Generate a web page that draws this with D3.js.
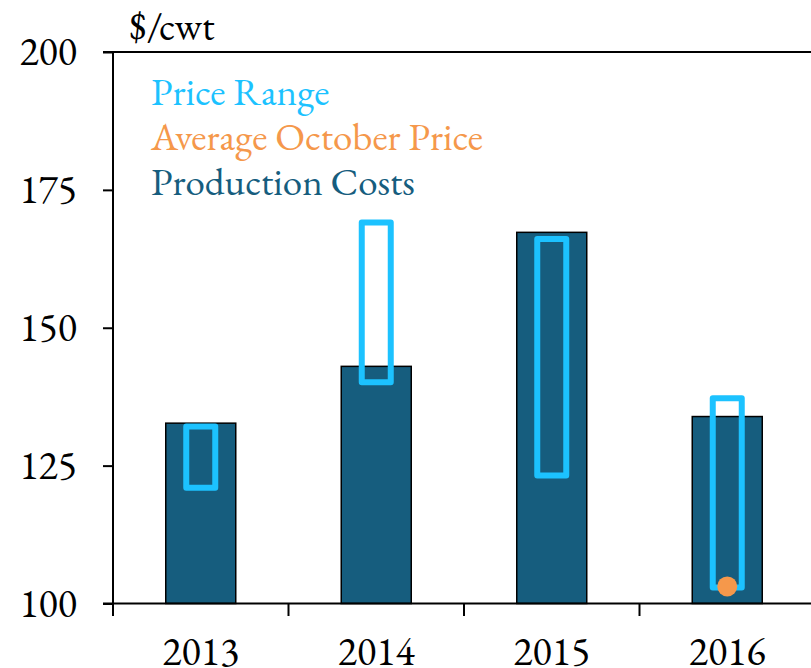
<!DOCTYPE html>
<html>
<head>
<meta charset="utf-8">
<script src="https://cdn.jsdelivr.net/npm/d3@7"></script>
<style>
  html, body { margin: 0; padding: 0; background: #fff; }
</style>
</head>
<body>
<div id="root"></div>
<script>
// chart data
var years = ['2013', '2014', '2015', '2016'];
var productionCosts = [132.7, 143.0, 167.3, 133.9];
var priceLow = [121.0, 140.1, 123.2, 102.9];
var priceHigh = [132.1, 169.1, 166.1, 137.2];
var octoberPrice = [null, null, null, 103.1];
var yTicks = [100, 125, 150, 175, 200];
var legendItems = ['Price Range', 'Average October Price', 'Production Costs'];

var W = 811, H = 668;
var darkBlue = '#165d7e', lightBlue = '#1cc2ff', orange = '#f5984b';
var serif = "'EB Garamond', 'Liberation Serif', serif";

var svg = d3.select('#root').append('svg')
  .attr('width', W)
  .attr('height', H)
  .style('font-family', serif);

// scales
var xScale = d3.scaleBand().domain(years).range([113, 815]);
var yScale = d3.scaleLinear().domain([100, 200]).range([603.5, 52]);
var barW = 70, boxW = 29;

var rows = years.map(function (y, i) {
  return { year: y, cost: productionCosts[i], lo: priceLow[i], hi: priceHigh[i], oct: octoberPrice[i] };
});

// production cost bars
svg.append('g').selectAll('rect').data(rows).enter().append('rect')
  .attr('x', function (d) { return xScale(d.year) + xScale.bandwidth() / 2 - barW / 2; })
  .attr('y', function (d) { return yScale(d.cost); })
  .attr('width', barW)
  .attr('height', function (d) { return yScale(100) - yScale(d.cost); })
  .attr('fill', darkBlue)
  .attr('stroke', '#000')
  .attr('stroke-width', 1.5);

// price range boxes
svg.append('g').selectAll('rect').data(rows).enter().append('rect')
  .attr('x', function (d) { return xScale(d.year) + xScale.bandwidth() / 2 - boxW / 2; })
  .attr('y', function (d) { return yScale(d.hi); })
  .attr('width', boxW)
  .attr('height', function (d) { return yScale(d.lo) - yScale(d.hi); })
  .attr('fill', 'none')
  .attr('stroke', lightBlue)
  .attr('stroke-width', 6)
  .attr('stroke-linejoin', 'round');

// average october price
svg.append('g').selectAll('circle').data(rows.filter(function (d) { return d.oct != null; }))
  .enter().append('circle')
  .attr('cx', function (d) { return xScale(d.year) + xScale.bandwidth() / 2; })
  .attr('cy', function (d) { return yScale(d.oct); })
  .attr('r', 10)
  .attr('fill', orange);

// axes
var yAxis = d3.axisLeft(yScale).tickValues(yTicks).tickSize(10).tickPadding(26).tickFormat(d3.format('d'));
var yG = svg.append('g').attr('transform', 'translate(113,0)').call(yAxis);
yG.attr('font-family', null).attr('font-size', null);
yG.select('.domain').remove();
yG.selectAll('line').attr('stroke', '#000').attr('stroke-width', 2);
yG.selectAll('text').attr('font-size', 40).attr('fill', '#000').attr('dy', '0.32em');

svg.append('line').attr('x1', 113).attr('x2', 113).attr('y1', 52).attr('y2', 604)
  .attr('stroke', '#000').attr('stroke-width', 2);
svg.append('line').attr('x1', 103).attr('x2', W).attr('y1', 52).attr('y2', 52)
  .attr('stroke', '#000').attr('stroke-width', 2);
svg.append('line').attr('x1', 103).attr('x2', W).attr('y1', 603.5).attr('y2', 603.5)
  .attr('stroke', '#000').attr('stroke-width', 2);

var xG = svg.append('g');
xG.selectAll('line').data(years).enter().append('line')
  .attr('x1', function (d) { return xScale(d); })
  .attr('x2', function (d) { return xScale(d); })
  .attr('y1', 603.5).attr('y2', 616)
  .attr('stroke', '#000').attr('stroke-width', 2);
xG.selectAll('text').data(years).enter().append('text')
  .attr('x', function (d) { return xScale(d) + xScale.bandwidth() / 2; })
  .attr('y', 665)
  .attr('text-anchor', 'middle')
  .attr('font-size', 40)
  .text(function (d) { return d; });

// unit label
svg.append('text').attr('x', 129).attr('y', 40).attr('font-size', 40).text('$/cwt');

// legend
var legendColors = [lightBlue, orange, darkBlue];
svg.append('g').selectAll('text').data(legendItems).enter().append('text')
  .attr('x', 151)
  .attr('y', function (d, i) { return 105 + i * 45; })
  .attr('font-size', 39)
  .attr('fill', function (d, i) { return legendColors[i]; })
  .text(function (d) { return d; });
</script>
</body>
</html>
